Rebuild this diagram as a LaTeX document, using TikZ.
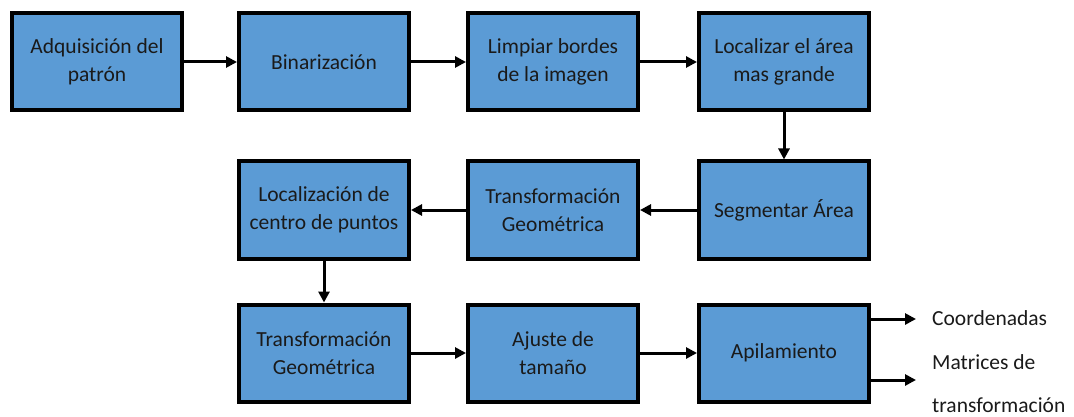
\documentclass[tikz,border=0pt]{standalone}
\usepackage{fontspec}
\setmainfont{Carlito}
\usetikzlibrary{arrows.meta}
\definecolor{boxfill}{HTML}{5B9BD5}
\definecolor{txt}{HTML}{1A1A1A}
\tikzset{
  stepbox/.style={draw=black, line width=4pt, fill=boxfill, minimum width=170pt, minimum height=97pt, inner sep=0pt, align=center, text=txt, font=\fontsize{21.5}{28}\selectfont},
  conn/.style={line width=3pt, -{Triangle[length=11pt,width=11pt]}},
  lbl/.style={anchor=west, inner sep=0pt, text=txt, font=\fontsize{21.5}{26}\selectfont}
}
\begin{document}
\begin{tikzpicture}[x=1pt,y=-1pt]
\useasboundingbox (0,0) rectangle (1074,417);
\node[stepbox] (a) at (97,62) {Adquisición del\\patrón};
\node[stepbox] (b) at (324,62) {Binarización};
\node[stepbox] (c) at (553,62) {Limpiar bordes\\de la imagen};
\node[stepbox] (d) at (784,62) {Localizar el área\\mas grande};
\node[stepbox] (e) at (784,210) {Segmentar Área};
\node[stepbox] (f) at (553,210) {Transformación\\Geométrica};
\node[stepbox] (g) at (324,210) {Localización de\\centro de puntos};
\node[stepbox] (h) at (324,353) {Transformación\\Geométrica};
\node[stepbox] (i) at (553,353) {Ajuste de\\tamaño};
\node[stepbox] (j) at (784,353) {Apilamiento};
\coordinate (o1) at (916,319);
\coordinate (o2) at (916,380);
\node[lbl] (t1) at (932,318) {Coordenadas};
\node[lbl] (t2) at (932,362) {Matrices de};
\node[lbl] (t3) at (932,405) {transformación};
\draw[conn] (a) -- (b);
\draw[conn] (b) -- (c);
\draw[conn] (c) -- (d);
\draw[conn] (d) -- (e);
\draw[conn] (e) -- (f);
\draw[conn] (f) -- (g);
\draw[conn] (g) -- (h);
\draw[conn] (h) -- (i);
\draw[conn] (i) -- (j);
\draw[conn] (j.east |- o1) -- (o1);
\draw[conn] (j.east |- o2) -- (o2);
\end{tikzpicture}
\end{document}
